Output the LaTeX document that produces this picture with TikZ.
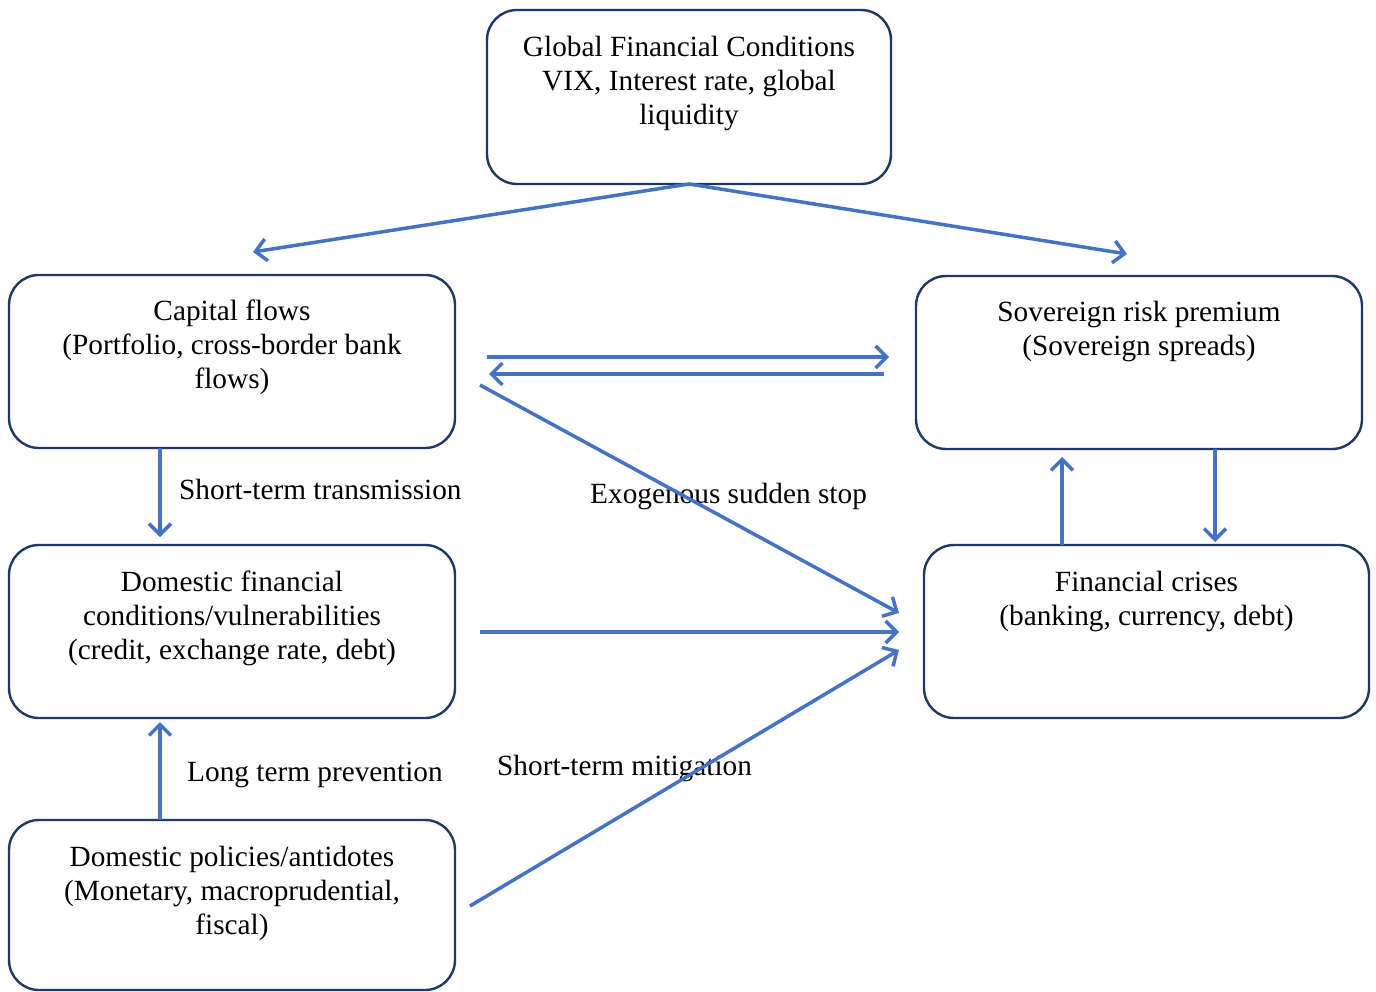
\documentclass[tikz,border=0pt]{standalone}
\usepackage{fontspec}
\setmainfont{Liberation Serif}
\usetikzlibrary{arrows.meta,calc}
\definecolor{boxline}{HTML}{1F3864}
\definecolor{arrowblue}{HTML}{4472C4}
\begin{document}
\begin{tikzpicture}[x=1pt,y=-1pt,
  box/.style={draw=boxline, line width=2.4pt, rounded corners=30pt, inner sep=0pt, outer sep=0pt, minimum width=446pt, minimum height=173pt},
  txt/.style={font=\fontsize{29.3}{34}\selectfont, align=center, inner sep=0pt, anchor=north},
  lbl/.style={font=\fontsize{29.3}{34}\selectfont, inner sep=0pt, anchor=base west},
  arr/.style={draw=arrowblue, line width=3.5pt, -{Straight Barb[length=11pt,width=22pt]}}]
\useasboundingbox (0,0) rectangle (1376,992);
\fill[white] (0,0) rectangle (1376,992);
% boxes
\node[box, minimum width=404pt, minimum height=174pt] (glob) at (689,97) {};
\node[box] (cap) at (232,361.5) {};
\node[box] (sov) at (1139,362.5) {};
\node[box] (dom) at (232,631.5) {};
\node[box, minimum width=445pt] (cri) at (1146.5,631.5) {};
\node[box, minimum height=170pt] (pol) at (232,905) {};
% box texts
\node[txt] (globt) at (689,36) {Global Financial Conditions\\VIX, Interest rate, global\\liquidity};
\node[txt] (capt) at (232,300) {Capital flows\\(Portfolio, cross-border bank\\flows)};
\node[txt] (sovt) at (1139,301) {Sovereign risk premium\\(Sovereign spreads)};
\node[txt] (domt) at (232,571) {Domestic financial\\conditions/vulnerabilities\\(credit, exchange rate, debt)};
\node[txt] (crit) at (1146.5,571) {Financial crises\\(banking, currency, debt)};
\node[txt] (polt) at (232,846) {Domestic policies/antidotes\\(Monetary, macroprudential,\\fiscal)};
% labels
\node[lbl] (l1) at (179,499) {Short-term transmission};
\node[lbl] (l2) at (590,503) {Exogenous sudden stop};
\node[lbl] (l3) at (187,781) {Long term prevention};
\node[lbl] (l4) at (497,775) {Short-term mitigation};
% free ends
\coordinate (c1) at (253,252);
\coordinate (c2) at (1127,254);
% arrows
\draw[arr] (glob.south) -- (c1);
\draw[arr] (glob.south) -- (c2);
\draw[arr] ($(cap.east)+(32,-4.5)$) -- ($(sov.west)+(-27,-5.5)$);
\draw[arr] ($(sov.west)+(-32,11.5)$) -- ($(cap.east)+(34,12.5)$);
\draw[arr] ($(cap.east)+(25,23.5)$) -- ($(cri.west)+(-25,-18.5)$);
\draw[arr] ($(dom.east)+(25,0.5)$) -- ($(cri.west)+(-25,0.5)$);
\draw[arr] ($(pol.east)+(15,1)$) -- ($(cri.west)+(-25,18.5)$);
\draw[arr] ($(cap.south)+(-72,0)$) -- ($(dom.north)+(-72,-8)$);
\draw[arr] ($(pol.north)+(-72,0)$) -- ($(dom.south)+(-72,4)$);
\draw[arr] ($(cri.north)+(-84.5,0)$) -- ($(sov.south)+(-77,8)$);
\draw[arr] ($(sov.south)+(76,0)$) -- ($(cri.north)+(68.5,-3)$);
\end{tikzpicture}
\end{document}
